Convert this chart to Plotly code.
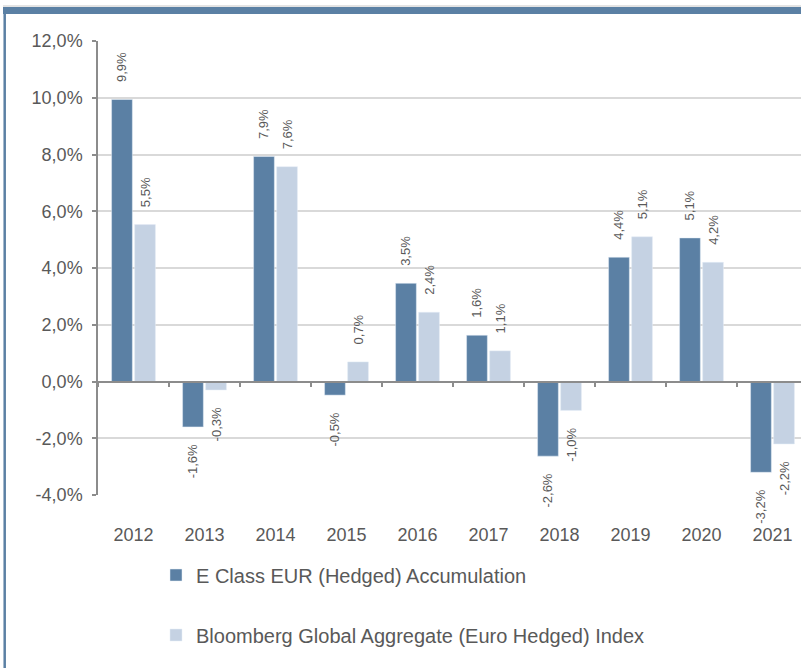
import plotly.graph_objects as go

years = ["2012", "2013", "2014", "2015", "2016", "2017", "2018", "2019", "2020", "2021"]
fund_name = "E Class EUR (Hedged) Accumulation"
index_name = "Bloomberg Global Aggregate (Euro Hedged) Index"
fund_values = [9.94, -1.6, 7.93, -0.48, 3.46, 1.63, -2.63, 4.38, 5.06, -3.2]
index_values = [5.53, -0.3, 7.57, 0.69, 2.44, 1.08, -1.02, 5.1, 4.2, -2.2]
y_tick_values = [-4, -2, 0, 2, 4, 6, 8, 10, 12]
y_tick_labels = ["-4,0%", "-2,0%", "0,0%", "2,0%", "4,0%", "6,0%", "8,0%", "10,0%", "12,0%"]

DARK = "rgb(91,128,164)"
LIGHT = "rgb(197,210,227)"
TXT = "#595959"
FONT = "Liberation Sans, Arial, sans-serif"
PAD = "\u00a0\u00a0\u00a0\u00a0"

W, H = 801, 668
ML, MR, MT, MB = 98, 0, 41, 173
PW, PH = W - ML - MR, H - MT - MB


def fmt(v):
    return f"{v:.1f}".replace(".", ",") + "%"


def padded(vals):
    out = []
    for v in vals:
        if v >= 0:
            out.append(PAD + fmt(v))
        else:
            out.append(fmt(v) + PAD)
    return out


def px(x):
    return (x - ML) / PW


def py(y):
    return (H - MB - y) / PH


fig = go.Figure()
fig.add_trace(go.Bar(
    x=years, y=fund_values, name=fund_name, marker_color=DARK,
    text=padded(fund_values), textposition="outside", textangle=-90,
    textfont=dict(size=13, color=TXT, family=FONT), cliponaxis=False,
    constraintext="none", legend="legend",
))
fig.add_trace(go.Bar(
    x=years, y=index_values, name=index_name, marker_color=LIGHT,
    text=padded(index_values), textposition="outside", textangle=-90,
    textfont=dict(size=13, color=TXT, family=FONT), cliponaxis=False,
    constraintext="none", legend="legend2",
))
# helper trace so the zero-line axis (with boundary ticks) is drawn
fig.add_trace(go.Scatter(
    x=years, y=[None] * len(years), xaxis="x2", mode="markers",
    showlegend=False, hoverinfo="skip",
))

xr = [-0.5, -0.5 + PW / 71.0]

fig.update_layout(
    width=W, height=H,
    margin=dict(l=ML, r=MR, t=MT, b=MB),
    paper_bgcolor="white", plot_bgcolor="white",
    font=dict(family=FONT, color=TXT, size=18),
    barmode="group", bargap=0.35, bargroupgap=0.1,
    xaxis=dict(
        type="category", categoryorder="array", categoryarray=years,
        range=xr, showline=False, showgrid=False, zeroline=False,
        ticks="", tickfont=dict(size=18, color=TXT, family=FONT),
        ticklabelstandoff=27,
    ),
    xaxis2=dict(
        type="category", categoryorder="array", categoryarray=years,
        overlaying="x", anchor="free", position=py(382),
        range=xr, showline=True, linecolor="#8c8c8c", linewidth=1.5,
        ticks="outside", tickson="boundaries", ticklen=4, tickwidth=1.5,
        tickcolor="#8c8c8c", showticklabels=False, showgrid=False,
        zeroline=False,
    ),
    yaxis=dict(
        range=[-4, 12], tickvals=y_tick_values, ticktext=y_tick_labels,
        showgrid=True, gridcolor="#d9d9d9", gridwidth=1.5,
        zeroline=False, showline=True, linecolor="#8c8c8c", linewidth=1.5,
        ticks="outside", ticklen=4, tickwidth=1.5, tickcolor="#8c8c8c",
        tickfont=dict(size=18, color=TXT, family=FONT),
        ticklabelstandoff=6,
    ),
    legend=dict(
        x=px(156), y=py(575), xanchor="left", yanchor="middle",
        font=dict(size=20, color=TXT, family=FONT), bgcolor="rgba(0,0,0,0)",
    ),
    legend2=dict(
        x=px(156), y=py(635), xanchor="left", yanchor="middle",
        font=dict(size=20, color=TXT, family=FONT), bgcolor="rgba(0,0,0,0)",
    ),
    shapes=[
        dict(type="line", xref="paper", yref="paper", x0=px(3), x1=px(W), y0=py(6), y1=py(6),
             line=dict(color="#c8c8c8", width=1)),
        dict(type="rect", xref="paper", yref="paper", x0=px(3), x1=px(W), y0=py(14), y1=py(7),
             fillcolor="rgb(91,128,164)", line=dict(width=0)),
        dict(type="line", xref="paper", yref="paper", x0=px(4.7), x1=px(4.7), y0=py(14), y1=py(H),
             line=dict(color="rgb(91,128,164)", width=2.5)),
    ],
)

fig.write_html(
    "out.html",
    config={"displayModeBar": False},
    post_script="document.body.style.margin='0';document.body.style.overflow='hidden';",
)
